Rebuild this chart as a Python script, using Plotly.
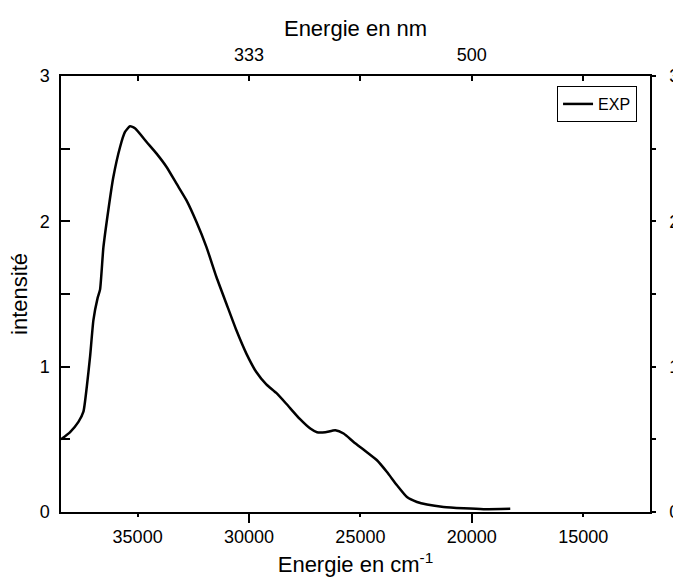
import plotly.graph_objects as go

# Data (wavenumber in cm^-1, intensity)
wavenumber = [38440, 38030, 37657, 37433, 37283, 37134, 36985, 36800, 36687, 36537,
              36313, 36090, 35791, 35567, 35343, 35119, 34597, 34149, 33701, 33254,
              32806, 32358, 31910, 31463, 31015, 30567, 30119, 29672, 29224, 28776,
              28328, 27731, 27249, 26948, 26576, 26127, 25754, 25306, 24781, 24256,
              23807, 23358, 22909, 22460, 22011, 21267, 20369, 19471, 18273]
intensity = [0.50, 0.55, 0.62, 0.69, 0.86, 1.07, 1.32, 1.47, 1.53, 1.82,
             2.08, 2.305, 2.51, 2.615, 2.654, 2.64, 2.546, 2.466, 2.374, 2.259,
             2.144, 1.995, 1.823, 1.617, 1.433, 1.25, 1.09, 0.963, 0.878, 0.819,
             0.745, 0.642, 0.574, 0.549, 0.549, 0.562, 0.540, 0.482, 0.420, 0.356,
             0.275, 0.184, 0.103, 0.069, 0.051, 0.034, 0.025, 0.019, 0.022]

bottom_ticks = [35000, 30000, 25000, 20000, 15000]
bottom_ticklabels = ["35000", "30000", "25000", "20000", "15000"]
bottom_major = [30000, 20000]
top_ticks = [35000, 30000, 25000, 20000, 15000]
top_ticklabels = ["", "333", "", "500", ""]
y_ticks = [0, 1, 2, 3]

x_range = [38440, 12000]
y_range = [0, 3]
FONT = "Arial, Liberation Sans, sans-serif"
TICK = 18
TITLE = 22

fig = go.Figure()
fig.add_trace(go.Scatter(x=wavenumber, y=intensity, mode="lines", name="EXP",
                         line=dict(color="black", width=2.5, shape="spline", smoothing=0.5),
                         xaxis="x", yaxis="y"))

axis_common = dict(showgrid=False, zeroline=False, showline=True, linecolor="black",
                   linewidth=1.5, tickcolor="black", tickwidth=1.5, automargin=False,
                   tickfont=dict(family=FONT, size=TICK, color="black"))

fig.update_layout(
    width=673, height=580,
    margin=dict(l=61, r=23, t=76, b=68, autoexpand=False),
    paper_bgcolor="white", plot_bgcolor="white",
    font=dict(family=FONT, color="black"),
    xaxis=dict(range=x_range, tickvals=bottom_ticks, ticktext=bottom_ticklabels,
               ticks="outside", ticklen=3, ticklabelstandoff=5,
               title=dict(text="Energie en cm<sup>-1</sup>", font=dict(size=TITLE, family=FONT), standoff=10),
               **axis_common),
    xaxis2=dict(range=x_range, tickvals=top_ticks, ticktext=top_ticklabels, ticks="inside",
                ticklen=5, side="top", overlaying="x", anchor="y", ticklabelstandoff=6,
                title=dict(text="Energie en nm", font=dict(size=TITLE, family=FONT), standoff=2),
                **axis_common),
    xaxis3=dict(range=x_range, tickvals=bottom_major, ticks="outside", ticklen=9,
                showticklabels=False, overlaying="x", anchor="y", side="bottom",
                **axis_common),
    yaxis=dict(range=y_range, tickvals=y_ticks, ticks="inside", ticklen=9, ticklabelstandoff=6,
               minor=dict(dtick=0.5, ticks="inside", ticklen=9, tickcolor="black", tickwidth=1.5),
               title=dict(text="intensité", font=dict(size=TITLE, family=FONT), standoff=6),
               **axis_common),
    yaxis2=dict(range=y_range, tickvals=y_ticks, ticks="outside", ticklen=4, ticklabelstandoff=10,
                minor=dict(dtick=0.5, ticks="outside", ticklen=4, tickcolor="black", tickwidth=1.5),
                side="right", overlaying="y", anchor="x", **axis_common),
    legend=dict(x=0.978, y=0.977, xanchor="right", yanchor="top",
                bgcolor="white", bordercolor="black", borderwidth=1,
                font=dict(family=FONT, size=16, color="black"),
                itemwidth=30, tracegroupgap=0),
    showlegend=True,
)

# invisible traces so the overlay axes are drawn
fig.add_trace(go.Scatter(x=[None], y=[None], xaxis="x2", yaxis="y2", showlegend=False, hoverinfo="skip"))
fig.add_trace(go.Scatter(x=[None], y=[None], xaxis="x3", yaxis="y", showlegend=False, hoverinfo="skip"))

fig.write_html("out.html", config={"displayModeBar": False},
               post_script="document.body.style.margin='0px';document.body.style.overflow='hidden';")
